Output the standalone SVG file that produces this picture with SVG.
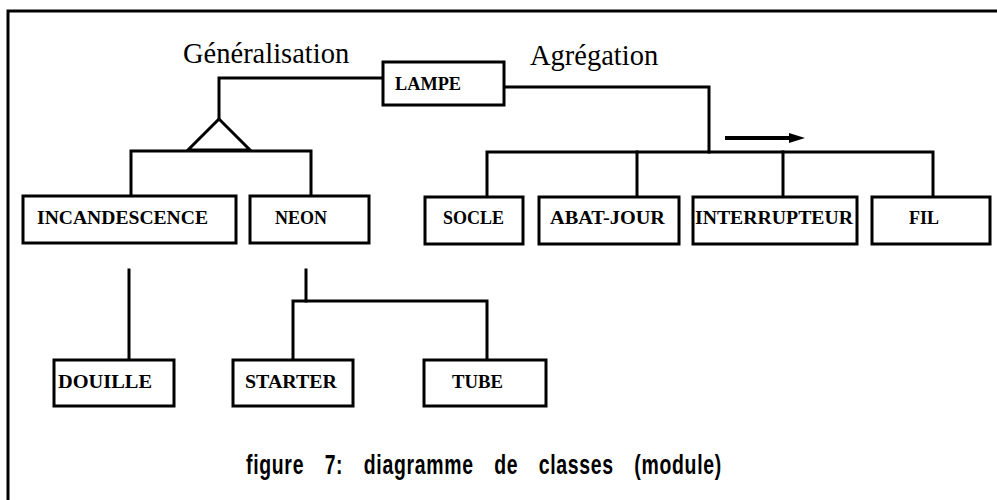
<svg xmlns="http://www.w3.org/2000/svg" width="997" height="500" viewBox="0 0 997 500">
<style>
.frame{fill:none;stroke:#000;stroke-width:3}
.box{fill:#fff;stroke:#000;stroke-width:3}
.ln{fill:none;stroke:#000;stroke-width:3;stroke-linecap:square}
.lbl{font-family:"Liberation Serif","Times New Roman",serif;font-weight:bold;font-size:18px;fill:#000}
.rel{font-family:"Liberation Serif","Times New Roman",serif;font-size:28.5px;fill:#000}
.cap{font-family:"Liberation Sans","Arial",sans-serif;font-weight:bold;font-size:27px;fill:#000}
</style>
<defs>
<marker id="ah" viewBox="0 0 16 10" refX="6" refY="5" markerWidth="16" markerHeight="10" orient="auto" markerUnits="userSpaceOnUse">
<path d="M0,0 L16,5 L0,10 Z" fill="#000"/>
</marker>
</defs>
<rect width="997" height="500" fill="#fff"/>
<path class="frame" d="M8,500 L8,11 L997,11"/>
<text class="rel" x="183" y="63">Généralisation</text>
<text class="rel" x="530" y="65">Agrégation</text>
<g id="connectors">
<path class="ln" d="M383,78 L219,78 L219,119"/>
<path class="box" d="M219,119 L188,150 L250,150 Z" style="stroke-linejoin:miter"/>
<path class="ln" d="M131,196 L131,151 L311,151 L311,196"/>
<path class="ln" d="M504,87 L709,87 L709,152"/>
<path class="ln" d="M487,197 L487,152 L933,152 L933,197"/>
<path class="ln" d="M637,152 L637,197"/>
<path class="ln" d="M783,152 L783,197"/>
<path fill="none" stroke="#000" stroke-width="4" d="M725,138 L795,138" marker-end="url(#ah)"/>
<path class="ln" d="M129,270 L129,360"/>
<path class="ln" d="M306,270 L306,301"/>
<path class="ln" d="M293,360 L293,301 L487,301 L487,360"/>
</g>
<g id="lampe"><rect class="box" x="383" y="62" width="121" height="43"/><text class="lbl" x="395" y="90" textLength="66" lengthAdjust="spacingAndGlyphs">LAMPE</text></g>
<g id="incandescence"><rect class="box" x="23" y="196" width="213" height="47"/><text class="lbl" x="37" y="224" textLength="171" lengthAdjust="spacingAndGlyphs">INCANDESCENCE</text></g>
<g id="neon"><rect class="box" x="250" y="196" width="119" height="47"/><text class="lbl" x="275" y="224">NEON</text></g>
<g id="socle"><rect class="box" x="425" y="197" width="98" height="47"/><text class="lbl" x="443" y="224">SOCLE</text></g>
<g id="abat-jour"><rect class="box" x="539" y="197" width="140" height="47"/><text class="lbl" x="550" y="224" textLength="115" lengthAdjust="spacingAndGlyphs">ABAT-JOUR</text></g>
<g id="interrupteur"><rect class="box" x="693" y="197" width="164" height="47"/><text class="lbl" x="695" y="224" textLength="158" lengthAdjust="spacingAndGlyphs">INTERRUPTEUR</text></g>
<g id="fil"><rect class="box" x="872" y="197" width="118" height="47"/><text class="lbl" x="909" y="224">FIL</text></g>
<g id="douille"><rect class="box" x="54" y="360" width="120" height="46"/><text class="lbl" x="58" y="388" textLength="94" lengthAdjust="spacingAndGlyphs">DOUILLE</text></g>
<g id="starter"><rect class="box" x="233" y="360" width="120" height="46"/><text class="lbl" x="245" y="388" textLength="92" lengthAdjust="spacingAndGlyphs">STARTER</text></g>
<g id="tube"><rect class="box" x="424" y="360" width="122" height="46"/><text class="lbl" x="452" y="388" textLength="51" lengthAdjust="spacingAndGlyphs">TUBE</text></g>
<text class="cap" transform="translate(246,474) scale(0.72,1)" x="0" y="0" letter-spacing="1" word-spacing="20" textLength="661" lengthAdjust="spacing">figure 7: diagramme de classes (module)</text>
</svg>
